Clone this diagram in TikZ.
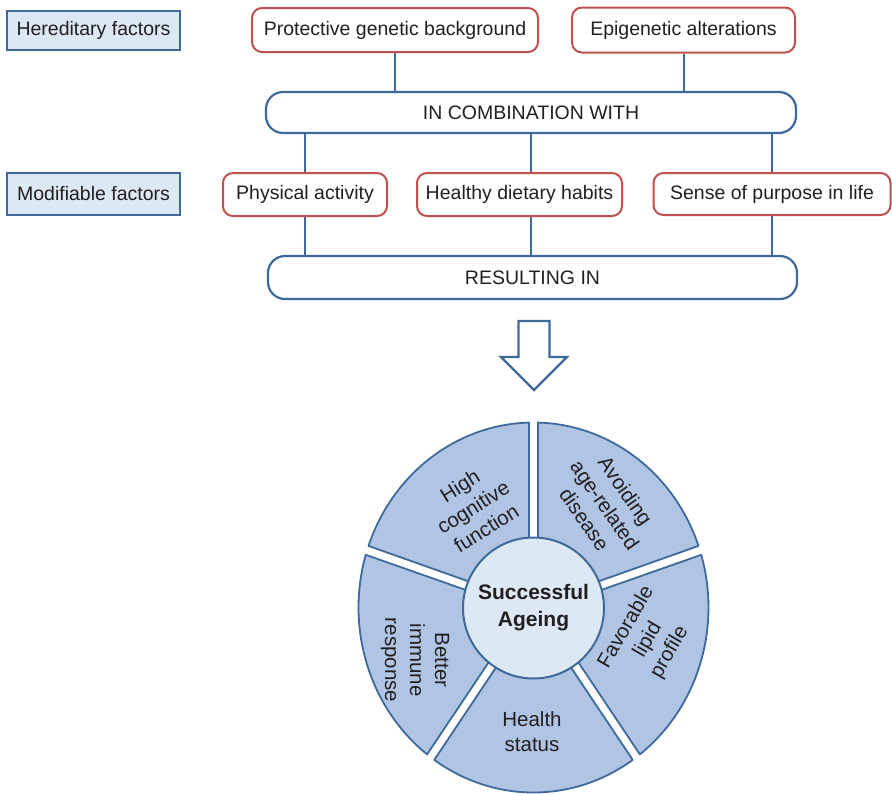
\documentclass[tikz,border=0pt]{standalone}
\usepackage{fontspec}
\setmainfont{Liberation Sans}
\usetikzlibrary{calc,backgrounds}
\definecolor{dblue}{RGB}{62,106,155}
\definecolor{lblue}{RGB}{220,232,244}
\definecolor{sblue}{RGB}{176,196,228}
\definecolor{rborder}{RGB}{192,80,77}
\definecolor{txt}{RGB}{35,31,32}
\newcommand\wheelseg[2]{%
  \filldraw[seg] ({#1+1.45}:175 and 185) arc[start angle={#1+1.45}, end angle={#2-1.45}, x radius=175, y radius=185]
    -- ({#2-4.3}:60) arc[start angle={#2-4.3}, end angle={#1+4.3}, radius=60] -- cycle;}
\tikzset{
  factor/.style={draw=dblue, line width=2pt, fill=lblue, rectangle, inner sep=0pt, text=txt,
    font=\fontsize{19.5}{23}\selectfont},
  redbox/.style={draw=rborder, line width=2pt, fill=white, rounded corners=10pt, inner sep=0pt, text=txt,
    font=\fontsize{19.5}{23}\selectfont},
  bluebar/.style={draw=dblue, line width=2.2pt, fill=white, rounded corners=17pt, inner sep=0pt, text=txt,
    font=\fontsize{19.5}{23}\selectfont},
  conn/.style={draw=dblue, line width=2pt},
  seg/.style={draw=dblue, line width=1.8pt, fill=sblue, line join=round},
  seglabel/.style={text=txt, align=center, inner sep=0pt, font=\fontsize{20.5}{25}\selectfont},
}
\begin{document}
\begin{tikzpicture}[x=1pt,y=-1pt]
\useasboundingbox (0,0) rectangle (892,793);
% left labels
\node[factor, minimum width=173pt, minimum height=39pt] (hered) at (93.5,30.5) {Hereditary factors};
\node[factor, minimum width=173pt, minimum height=42pt] (modif) at (93.5,194) {Modifiable factors};
% hereditary boxes
\node[redbox, minimum width=286pt, minimum height=44pt] (prot) at (395,30) {Protective genetic background};
\node[redbox, minimum width=223pt, minimum height=45pt] (epi) at (683.5,30) {Epigenetic alterations};
% combination bar
\node[bluebar, minimum width=530pt, minimum height=41pt] (comb) at (531,112.5) {IN COMBINATION WITH};
% modifiable boxes
\node[redbox, minimum width=164pt, minimum height=43pt] (phys) at (305,194.5) {Physical activity};
\node[redbox, minimum width=205pt, minimum height=43pt] (diet) at (519.5,194.5) {Healthy dietary habits};
\node[redbox, minimum width=237pt, minimum height=42pt] (purp) at (772,194) {Sense of purpose in life};
% result bar
\node[bluebar, minimum width=529pt, minimum height=43pt] (res) at (532.5,277.5) {RESULTING IN};
% connectors
\begin{pgfonlayer}{background}
\draw[conn] (prot.south) -- (prot.south |- comb.north);
\draw[conn] (epi.south) -- (epi.south |- comb.north);
\draw[conn] (phys.center |- comb.south) -- (phys.center |- res.north);
\draw[conn] (comb.south) -- (comb.south |- res.north);
\draw[conn] (purp.center |- comb.south) -- (purp.center |- res.north);
\end{pgfonlayer}
% block arrow
\draw[draw=dblue, line width=2.4pt, fill=white, line join=miter]
  (518.5,321) -- (549.5,321) -- (549.5,357) -- (567,357) -- (534,390) -- (501,357) -- (518.5,357) -- cycle;
% wheel
\begin{scope}[shift={(533.5,607.5)}, yscale=-1]
\wheelseg{18}{90}
\wheelseg{90}{162}
\wheelseg{162}{234}
\wheelseg{234}{306}
\wheelseg{306}{378}
\end{scope}
\node[circle, draw=dblue, line width=2pt, fill=lblue, minimum size=141pt, inner sep=0pt, text=txt,
  align=center, font=\fontsize{21}{27}\selectfont\bfseries] (center) at (533.5,608) {Successful\\Ageing};
\node[seglabel, rotate=32] (cog) at (473,507) {High\\cognitive\\function};
\node[seglabel, rotate=-55] (avoid) at (605,505) {Avoiding\\age-related\\disease};
\node[seglabel, rotate=60] (lipid) at (648,640) {Favorable\\lipid\\profile};
\node[seglabel, rotate=-90] (immune) at (415,660) {Better\\immune\\response};
\node[seglabel] (health) at (532,732) {Health\\status};
\end{tikzpicture}
\end{document}
